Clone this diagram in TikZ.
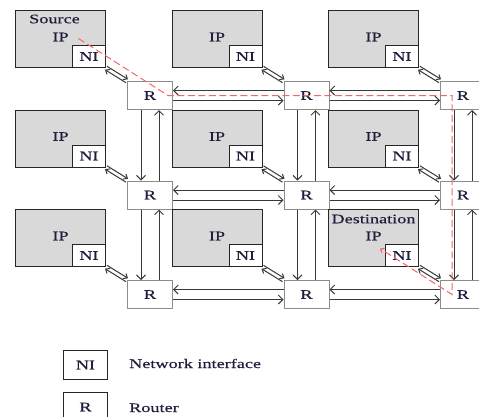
\documentclass[tikz,border=0pt]{standalone}
\usepackage{fontspec}
\setmainfont{Liberation Serif}[FakeStretch=1.4, FakeBold=0.4]
\usetikzlibrary{positioning,arrows.meta,calc}
\definecolor{BoxGray}{HTML}{D9D9D9}
\definecolor{LinkGray}{HTML}{383838}
\definecolor{RouterEdge}{HTML}{8C8C8C}
\definecolor{RouteRed}{HTML}{F2676B}
\definecolor{InkNavy}{HTML}{1E1E3C}

\begin{document}
\begin{tikzpicture}[x=1pt, y=-1pt,
  ipbox/.style   = {draw=black!85, fill=BoxGray, line width=1pt, inner sep=0pt,
                    minimum width=90pt, minimum height=57pt, anchor=north west},
  nibox/.style   = {draw=black!85, fill=white, line width=1pt, inner sep=0pt,
                    minimum width=33pt, minimum height=22pt,
                    font=\fontsize{13}{15}\selectfont, text=InkNavy},
  router/.style  = {draw=RouterEdge, fill=white, line width=1pt, inner sep=0pt,
                    minimum width=45pt, minimum height=28pt, anchor=north west,
                    font=\fontsize{13}{15}\selectfont, text=InkNavy},
  txt/.style     = {font=\fontsize{13}{15}\selectfont, text=InkNavy, inner sep=0pt},
  link/.style    = {-{Straight Barb[length=4.5pt,width=9pt]}, LinkGray, line width=1pt},
  nilink/.style  = {-{Straight Barb[length=3.5pt,width=6pt]}, LinkGray, line width=1pt},
  redroute/.style = {-{Straight Barb[length=3pt,width=5pt]}, RouteRed, line width=1pt,
                    dash pattern=on 7pt off 3.5pt}
]
  \useasboundingbox (0,0) rectangle (479,416);
  \clip (0,0) rectangle (479,416);

  \foreach \i in {0,1,2}
    \foreach \j in {0,1,2} {
      \pgfmathsetmacro\px{15+156.5*\i}
      \pgfmathsetmacro\py{10+99.5*\j}
      \node[ipbox] (ip\i\j) at (\px,\py) {};
      \node[nibox, anchor=south east] (ni\i\j) at (ip\i\j.south east) {NI};
      \node[router] (r\i\j) at (\px+112,\py+71) {R};
    }

  \foreach \i in {0,1,2}
    \foreach \j in {0,1,2}
      \node[txt] (ipt\i\j) at ($(ip\i\j.north)+(0,27)$) {IP};
  \node[txt] (srcname) at ($(ip00.north)+(-6,9)$) {Source};
  \node[txt] (dstname) at ($(ip22.north)+(0,10)$) {Destination};

  \foreach \i/\k in {0/1,1/2}
    \foreach \j in {0,1,2} {
      \draw[link] ([yshift=5pt]r\k\j.west) -- ([yshift=5pt]r\i\j.east);
      \draw[link] ([yshift=-5pt]r\i\j.east) -- ([yshift=-5pt]r\k\j.west);
    }
  \foreach \j/\k in {0/1,1/2}
    \foreach \i in {0,1,2} {
      \draw[link] ([xshift=-9pt]r\i\j.south) -- ([xshift=-9pt]r\i\k.north);
      \draw[link] ([xshift=9pt]r\i\k.north) -- ([xshift=9pt]r\i\j.south);
    }
  \foreach \i in {0,1,2}
    \foreach \j in {0,1,2} {
      \draw[nilink] ([shift={(1pt,1.7pt)}]ni\i\j.south east) -- ([shift={(1pt,1.7pt)}]r\i\j.north west);
      \draw[nilink] ([shift={(-1pt,-1.7pt)}]r\i\j.north west) -- ([shift={(-1pt,-1.7pt)}]ni\i\j.south east);
    }

  \coordinate (src) at ($(ip00.center)+(18,-0.5)$);
  \coordinate (dst) at ($(ni22.west)+(-5,-7)$);
  \draw[redroute] (src) -- ($(r00.center)+(18,0)$) -- ($(r20.center)+(-11,0)$)
    -- ($(r22.center)+(-11,0)$) -- (dst);

  \node[nibox, anchor=north west, minimum width=44pt, minimum height=29pt] (keyni) at (63,350) {NI};
  \node[txt, anchor=base west] (keynitext) at (129,368) {Network interface};
  \node[router, draw=black!85, minimum width=44pt, minimum height=29pt] (keyr) at (63,392) {R};
  \node[txt, anchor=base west] (keyrtext) at (129,412) {Router};
\end{tikzpicture}
\end{document}
